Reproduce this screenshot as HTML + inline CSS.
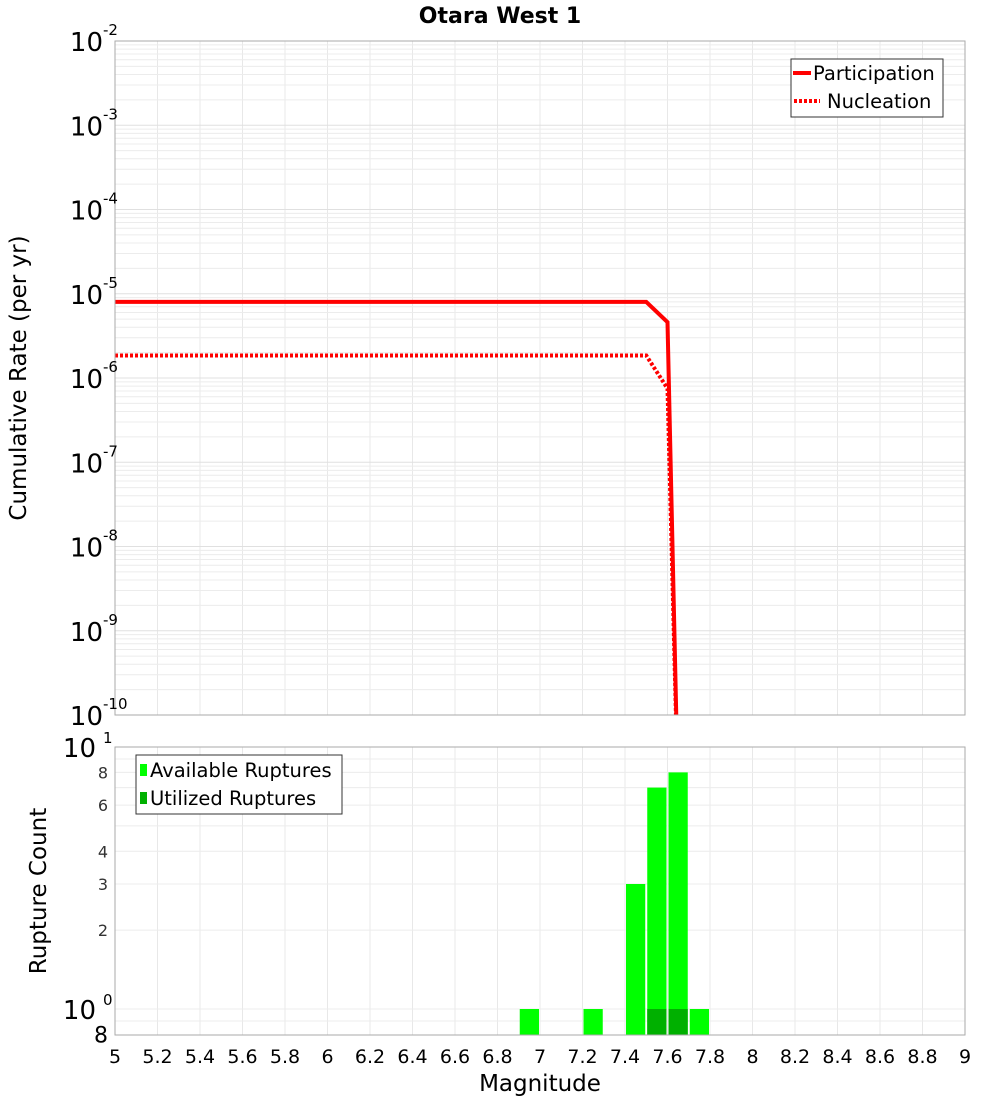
<!DOCTYPE html>
<html><head><meta charset="utf-8"><style>
body{margin:0;background:#fff;}
svg{display:block;font-family:"DejaVu Sans","Liberation Sans",sans-serif;}
</style></head><body>
<svg id="c" width="1000" height="1100" xmlns="http://www.w3.org/2000/svg">
<defs>
<clipPath id="ct"><rect x="115" y="41" width="850" height="674"/></clipPath>
<clipPath id="cb"><rect x="115" y="747" width="850" height="288"/></clipPath>
</defs>
<g id="gt"></g>
<g id="gb"></g>
<g id="marks"></g>
<rect x="115" y="41" width="850" height="674" fill="none" stroke="#aaa"/>
<rect x="115" y="747" width="850" height="288" fill="none" stroke="#aaa"/>
<text x="500" y="23" text-anchor="middle" font-size="22" font-weight="bold">Otara West 1</text>
<text transform="translate(26,378) rotate(-90)" text-anchor="middle" font-size="23">Cumulative Rate (per yr)</text>
<text transform="translate(46,891) rotate(-90)" text-anchor="middle" font-size="23">Rupture Count</text>
<text x="540" y="1091" text-anchor="middle" font-size="23">Magnitude</text>
<g>
<rect x="791" y="59" width="152" height="58" fill="#fff" stroke="#333"/>
<line x1="793" y1="73" x2="811" y2="73" stroke="#f00" stroke-width="4"/>
<text x="813" y="80" font-size="19.5">Participation</text>
<line x1="794" y1="101" x2="820" y2="101" stroke="#f00" stroke-width="4" stroke-dasharray="3,2"/>
<text x="827" y="108" font-size="19.5">Nucleation</text>
</g>
<g>
<rect x="136" y="755" width="206" height="59" fill="#fff" stroke="#333"/>
<rect x="140" y="764" width="7" height="12" fill="#0f0"/>
<text x="150" y="777" font-size="19.5">Available Ruptures</text>
<rect x="140" y="792" width="7" height="12" fill="#00b000"/>
<text x="150" y="805" font-size="19.5">Utilized Ruptures</text>
</g>
<g id="lbl"></g>
</svg>
<script>
const xTicks=[5,5.2,5.4,5.6,5.8,6,6.2,6.4,6.6,6.8,7,7.2,7.4,7.6,7.8,8,8.2,8.4,8.6,8.8,9];
const topDecades=[-2,-3,-4,-5,-6,-7,-8,-9,-10];
const partMag=[5,7.5,7.6,7.65];
const partRate=[8e-6,8e-6,4.6e-6,1e-11];
const nuclMag=[5,7.5,7.6,7.65];
const nuclRate=[1.85e-6,1.85e-6,7.5e-7,1e-11];
const binMag=[6.95,7.25,7.45,7.55,7.65,7.75];
const availCount=[1,1,3,7,8,1];
const usedCount=[0,0,0,1,1,0];
const botTicks=[8,2,3,4,6,8];
const botTickVals=[0.8,2,3,4,6,8];

const NS="http://www.w3.org/2000/svg";
const X=m=>115+(m-5)*212.5;
const YT=v=>41+(-2-Math.log10(v))*84.25;
const YB=v=>1009-Math.log10(v)*262;
function mk(t,a,p){const e=document.createElementNS(NS,t);for(const k in a)e.setAttribute(k,a[k]);(p||document.getElementById('marks')).appendChild(e);return e;}
const gt=document.getElementById('gt'),gb=document.getElementById('gb'),lbl=document.getElementById('lbl');
xTicks.forEach(m=>{
 const l1=mk('line',{x1:X(m),x2:X(m),y1:41,y2:715,stroke:'#e8e8e8'},gt);
 
 
 const l2=mk('line',{x1:X(m),x2:X(m),y1:747,y2:1035,stroke:'#e8e8e8'},gb);
 
 
 const t=mk('text',{x:X(m),y:1063,'text-anchor':'middle','font-size':19},lbl);
 t.textContent=String(m);
 
 
});
topDecades.forEach(d=>{
 for(let k=1;k<10;k++){const v=k*Math.pow(10,d);const y=YT(v);if(y<41||y>715)continue;
  const l=mk('line',{x1:115,x2:965,y1:y,y2:y,stroke:k==1?'#e0e0e0':'#ececec'},gt);
  
  }
 const y=YT(Math.pow(10,d));
 const t=mk('text',{x:103,y:y+10,'text-anchor':'end','font-size':26},lbl);
 t.textContent='10';
 
 
 const s=mk('text',{x:103,y:y-6,'font-size':15},lbl);
 s.textContent=String(d);
 
 
});
[0.9,1,2,3,4,5,6,7,8,9].forEach(v=>{const y=YB(v);
 const l=mk('line',{x1:115,x2:965,y1:y,y2:y,stroke:'#ececec'},gb);
 
 });
botTickVals.forEach((v,i)=>{const big=i==0;const t=mk('text',{x:108,y:YB(v)+(big?8:6),'text-anchor':'end','font-size':big?22:16,fill:big?'#000':'#333'},lbl);
 t.textContent=String(botTicks[i]);
 
 });
[[1009,'0'],[747,'1']].forEach(([y,e])=>{
 const t=mk('text',{x:96,y:y+10,'text-anchor':'end','font-size':26},lbl);t.textContent='10';
 
 
 const s=mk('text',{x:103,y:y-4,'font-size':15},lbl);s.textContent=e;
 
 });
const bw=21.25;
binMag.forEach((m,i)=>{
 const r=mk('rect',{x:X(m)-bw/2+1,y:YB(availCount[i]),width:bw-2,height:1035-YB(availCount[i]),fill:'#00ff00','clip-path':'url(#cb)'});
 
 
 if(usedCount[i]>0){const u=mk('rect',{x:X(m)-bw/2+1,y:YB(usedCount[i]),width:bw-2,height:1035-YB(usedCount[i]),fill:'#00b000','clip-path':'url(#cb)'});
 
 }
});
const pp=partMag.map((m,i)=>X(m)+','+YT(partRate[i])).join(' ');
const p1=mk('polyline',{points:pp,fill:'none',stroke:'#f00','stroke-width':4,'clip-path':'url(#ct)'});


const np=nuclMag.map((m,i)=>X(m)+','+YT(nuclRate[i])).join(' ');
const p2=mk('polyline',{points:np,fill:'none',stroke:'#f00','stroke-width':4,'stroke-dasharray':'3,2','clip-path':'url(#ct)'});


</script>
</body></html>
